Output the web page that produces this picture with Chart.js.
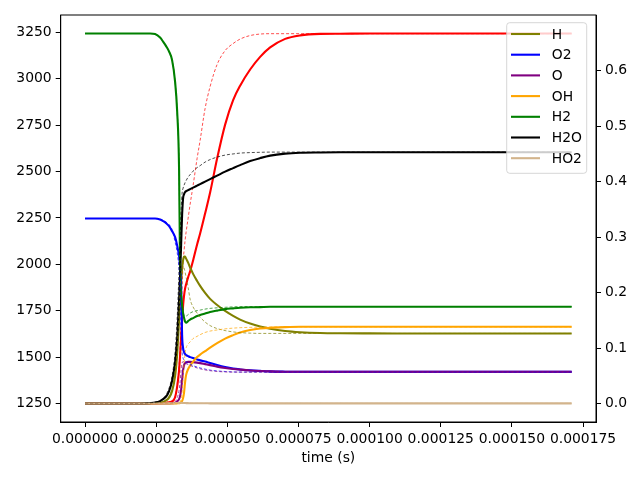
<!DOCTYPE html>
<html><head><meta charset="utf-8">
<script src="https://cdn.jsdelivr.net/npm/chart.js@4/dist/chart.umd.min.js"></script>
<style>html,body{margin:0;padding:0;background:#fff}canvas{display:block}</style>
</head><body>
<canvas id="c" width="640" height="480"></canvas>
<script>
// ---- data (time in seconds) ----
const time = [0, 12.31e-6, 19.34e-6, 22.86e-6, 24.61e-6, 26.37e-6, 27.43e-6, 28.48e-6, 29.54e-6, 30.59e-6,
  31.65e-6, 32.35e-6, 33.05e-6, 33.40e-6, 33.76e-6, 34.11e-6, 34.46e-6, 34.81e-6, 35.16e-6, 35.51e-6,
  36.22e-6, 36.92e-6, 37.97e-6, 39.38e-6, 40.44e-6, 42.19e-6, 43.95e-6, 46.41e-6, 49.23e-6, 52.04e-6,
  54.50e-6, 58.02e-6, 61.53e-6, 65.05e-6, 70.32e-6, 75.60e-6, 82.63e-6, 89.66e-6, 100.21e-6, 110.76e-6,
  128.34e-6, 145.92e-6, 171.0e-6];

// temperature (K), left axis
const T = [1250,1250,1250,1250,1250,1252,1253,1254,1257,1260,1284,1338,1429,1510,1607,1698,1779,1833,1870,1892,
  1930,1962,2021,2107,2166,2274,2387,2570,2753,2885,2963,3050,3118,3169,3215,3234,3242,3243,3244,3244,3244,3244,3244];
const Tdash = [1250,1250,1250,1250,1250,1252,1254,1256,1260,1266,1289,1349,1456,1560,1700,1870,2010,2076,2129,2173,
  2248,2323,2425,2571,2668,2840,2958,3077,3152,3190,3214,3233,3241,3243,3243,3243,3243,3243,3243,3243,3243,3243,3243];

// mole fractions, right axis
const H = [0,0,0,0.0002,0.0004,0.0014,0.0029,0.0056,0.0106,0.0223,0.0494,0.0872,0.1503,0.1863,0.2187,0.2440,0.2584,0.2647,0.2647,0.2611,
  0.2539,0.2450,0.2336,0.2208,0.2119,0.1992,0.1885,0.1775,0.1668,0.1578,0.1512,0.1440,0.1386,0.1347,0.1307,0.1285,0.1270,0.1265,0.1263,0.1262,0.1262,0.1262,0.1262];
const Hdash = [0,0,0,0.0002,0.0006,0.0016,0.0034,0.0065,0.0133,0.0277,0.0602,0.0962,0.1683,0.2043,0.2314,0.2440,0.2476,0.2440,0.2368,0.2277,
  0.2097,0.1880,0.1740,0.1630,0.1557,0.1467,0.1404,0.1350,0.1314,0.1290,0.1277,0.1268,0.1263,0.1263,0.1263,0.1263,0.1263,0.1263,0.1263,0.1263,0.1263,0.1263,0.1263];
const O2 = [0.3333,0.3333,0.3333,0.3333,0.3333,0.3314,0.3286,0.3250,0.3196,0.3106,0.2998,0.2854,0.2656,0.2476,0.2133,0.1232,0.0998,0.0926,0.0890,0.0872,
  0.0854,0.0836,0.0818,0.0795,0.0777,0.0755,0.0728,0.0692,0.0656,0.0629,0.0614,0.0598,0.0587,0.0578,0.0573,0.0571,0.0571,0.0571,0.0571,0.0571,0.0571,0.0571,0.0571];
const O2dash = [0.3333,0.3333,0.3333,0.3333,0.3333,0.3319,0.3299,0.3268,0.3224,0.3133,0.2908,0.2728,0.2404,0.2043,0.1323,0.0926,0.0818,0.0782,0.0764,0.0750,
  0.0728,0.0710,0.0683,0.0656,0.0641,0.0620,0.0602,0.0587,0.0577,0.0569,0.0566,0.0566,0.0566,0.0566,0.0566,0.0566,0.0566,0.0566,0.0566,0.0566,0.0566,0.0566,0.0566];
const O = [0,0,0,0,0,0,0,0,0,0.0004,0.0011,0.0034,0.0079,0.0133,0.0241,0.0422,0.0602,0.0692,0.0728,0.0741,
  0.0750,0.0750,0.0746,0.0737,0.0728,0.0710,0.0692,0.0665,0.0641,0.0623,0.0611,0.0596,0.0586,0.0578,0.0573,0.0571,0.0571,0.0571,0.0571,0.0571,0.0571,0.0571,0.0571];
const Odash = [0,0,0,0,0,0,0,0,0,0.0007,0.0034,0.0097,0.0241,0.0386,0.0602,0.0728,0.0755,0.0746,0.0732,0.0719,
  0.0701,0.0686,0.0665,0.0641,0.0625,0.0605,0.0591,0.0578,0.0569,0.0566,0.0566,0.0566,0.0566,0.0566,0.0566,0.0566,0.0566,0.0566,0.0566,0.0566,0.0566,0.0566,0.0566];
const OH = [0,0,0,0,0,0,0,0,0,0.0001,0.0002,0.0003,0.0004,0.0007,0.0016,0.0043,0.0097,0.0205,0.0386,0.0512,
  0.0620,0.0683,0.0755,0.0836,0.0881,0.0944,0.1007,0.1088,0.1169,0.1232,0.1281,0.1323,0.1350,0.1366,0.1377,0.1382,0.1382,0.1382,0.1382,0.1382,0.1382,0.1382,0.1382];
const OHdash = [0,0,0,0,0,0,0,0,0,0.0001,0.0002,0.0004,0.0007,0.0025,0.0079,0.0205,0.0450,0.0720,0.0900,0.1000,
  0.1070,0.1110,0.1170,0.1210,0.1240,0.1280,0.1305,0.1325,0.1345,0.1358,0.1366,0.1372,0.1376,0.1379,0.1379,0.1379,0.1379,0.1379,0.1379,0.1379,0.1379,0.1379,0.1379];
const H2 = [0.6667,0.6667,0.6667,0.6667,0.6656,0.6593,0.6521,0.6440,0.6341,0.6187,0.5796,0.5286,0.4205,0.2404,0.1953,0.1773,0.1629,0.1539,0.1476,0.1458,
  0.1485,0.1512,0.1539,0.1575,0.1593,0.1620,0.1647,0.1674,0.1701,0.1714,0.1724,0.1733,0.1737,0.1742,0.1742,0.1742,0.1742,0.1742,0.1742,0.1742,0.1742,0.1742,0.1742];
const H2dash = [0.6667,0.6667,0.6667,0.6667,0.6656,0.6593,0.6521,0.6440,0.6341,0.6187,0.5796,0.5286,0.4250,0.2550,0.2050,0.1780,0.1640,0.1593,0.1584,0.1575,
  0.1602,0.1629,0.1656,0.1674,0.1683,0.1701,0.1714,0.1724,0.1733,0.1741,0.1746,0.1746,0.1746,0.1746,0.1746,0.1746,0.1746,0.1746,0.1746,0.1746,0.1746,0.1746,0.1746];
const H2O = [0,0,0,0.0007,0.0016,0.0043,0.0079,0.0124,0.0223,0.0404,0.0746,0.1142,0.1863,0.2314,0.2854,0.3395,0.3700,0.3773,0.3809,0.3827,
  0.3845,0.3863,0.3890,0.3926,0.3953,0.3998,0.4043,0.4106,0.4178,0.4241,0.4295,0.4368,0.4422,0.4467,0.4503,0.4519,0.4524,0.4526,0.4526,0.4526,0.4526,0.4526,0.4526];
const H2Odash = [0,0,0,0.0010,0.0025,0.0052,0.0097,0.0160,0.0277,0.0494,0.0926,0.1503,0.2404,0.2944,0.3485,0.3791,0.3881,0.3935,0.3980,0.4016,
  0.4079,0.4124,0.4187,0.4250,0.4286,0.4350,0.4395,0.4440,0.4476,0.4497,0.4512,0.4521,0.4526,0.4530,0.4530,0.4530,0.4530,0.4530,0.4530,0.4530,0.4530,0.4530,0.4530];
const HO2 = [0,0.00005,0.0001,0.0001,0.0001,0.0001,0.0001,0.0001,0.0002,0.0003,0.0005,0.0008,0.0012,0.0013,0.0013,0.0012,0.0010,0.0009,0.0008,0.0007,
  0.0006,0.0005,0.0005,0.0004,0.0004,0.0004,0.0003,0.0003,0.0003,0.0003,0.0002,0.0002,0.0002,0.0002,0.0002,0.0002,0.0002,0.0002,0.0002,0.0002,0.0002,0.0002,0.0002];
const HO2dash = [0,0.00005,0.0001,0.0001,0.0001,0.0001,0.0001,0.0002,0.0003,0.0005,0.0008,0.0012,0.0014,0.0013,0.0011,0.0009,0.0008,0.0007,0.0006,0.0005,
  0.0005,0.0004,0.0004,0.0003,0.0003,0.0003,0.0003,0.0002,0.0002,0.0002,0.0002,0.0002,0.0002,0.0002,0.0002,0.0002,0.0002,0.0002,0.0002,0.0002,0.0002,0.0002,0.0002];

const speciesNames  = ['H', 'O2', 'O', 'OH', 'H2', 'H2O', 'HO2'];
const speciesColors = ['olive', 'blue', 'purple', 'orange', 'green', 'black', 'tan'];
const speciesSolid  = [H, O2, O, OH, H2, H2O, HO2];
const speciesDashed = [Hdash, O2dash, Odash, OHdash, H2dash, H2Odash, HO2dash];

const xTickValues = [0, 0.000025, 0.00005, 0.000075, 0.0001, 0.000125, 0.00015, 0.000175];
const tempTickValues = [1250, 1500, 1750, 2000, 2250, 2500, 2750, 3000, 3250];
const fracTickValues = [0.0, 0.1, 0.2, 0.3, 0.4, 0.5, 0.6];
const xTitle = 'time (s)';

// ---- build ----
function lim(arrs) {
  let lo = Infinity, hi = -Infinity;
  arrs.forEach(a => a.forEach(v => { lo = Math.min(lo, v); hi = Math.max(hi, v); }));
  const m = 0.05 * (hi - lo);
  return [lo - m, hi + m];
}
const [xMin, xMax] = lim([time]);
const [tMin, tMax] = lim([T, Tdash]);
const [fMin, fMax] = lim(speciesSolid.concat(speciesDashed));
const toXY = arr => arr.map((v, i) => ({x: time[i], y: v}));

const datasets = [];
datasets.push({label: 'T', data: toXY(T), yAxisID: 'yT', borderColor: 'red', borderWidth: 2.1});
datasets.push({label: 'T ref', data: toXY(Tdash), yAxisID: 'yT', borderColor: 'red', borderWidth: 0.7, borderDash: [3, 2]});
speciesNames.forEach((n, i) => {
  datasets.push({label: n, data: toXY(speciesSolid[i]), yAxisID: 'yX', borderColor: speciesColors[i], borderWidth: 2.1});
});
speciesNames.forEach((n, i) => {
  datasets.push({label: n + ' ref', data: toXY(speciesDashed[i]), yAxisID: 'yX', borderColor: speciesColors[i], borderWidth: 0.7, borderDash: [3, 2]});
});
datasets.forEach((d, i) => { d.order = -i; d.pointRadius = 0; d.fill = false; d.cubicInterpolationMode = 'monotone'; });

Chart.defaults.font.family = "'DejaVu Sans', sans-serif";
Chart.defaults.font.size = 13.9;
Chart.defaults.color = '#000';

const framePlugin = {
  id: 'frame',
  afterDatasetsDraw(chart) {
    const {ctx, chartArea: a} = chart;
    ctx.save();
    ctx.strokeStyle = '#000'; ctx.lineWidth = 1;
    ctx.strokeRect(a.left, a.top, a.right - a.left, a.bottom - a.top);
    ctx.restore();
  }
};
const legendPlugin = {
  id: 'boxLegend',
  afterDraw(chart) {
    const {ctx, chartArea: a} = chart;
    const bx = a.right - 89.3, by = a.top + 7.7, bw = 80, bh = 150.6;
    ctx.save();
    ctx.beginPath();
    ctx.roundRect(bx, by, bw, bh, 3);
    ctx.fillStyle = 'rgba(255,255,255,0.8)';
    ctx.fill();
    ctx.strokeStyle = 'rgba(204,204,204,0.8)';
    ctx.lineWidth = 1;
    ctx.stroke();
    ctx.font = "13.9px 'DejaVu Sans'";
    ctx.textBaseline = 'middle';
    ctx.textAlign = 'left';
    speciesNames.forEach((n, i) => {
      const y = by + 11.3 + i * 20.7;
      ctx.strokeStyle = speciesColors[i];
      ctx.lineWidth = 2.1;
      ctx.beginPath(); ctx.moveTo(bx + 4.3, y); ctx.lineTo(bx + 33.3, y); ctx.stroke();
      ctx.fillStyle = '#000';
      ctx.fillText(n, bx + 45, y + 1);
    });
    ctx.restore();
  }
};

const gridOpts = {drawOnChartArea: false, drawTicks: true, tickLength: 5, tickColor: '#000', tickWidth: 1};
const borderOpts = {display: true, color: '#000', width: 1};

new Chart(document.getElementById('c'), {
  type: 'line',
  data: {datasets},
  plugins: [framePlugin, legendPlugin],
  options: {
    responsive: false, animation: false, devicePixelRatio: 1,
    layout: {padding: {left: 0, right: 0, top: 15, bottom: 0}},
    plugins: {legend: {display: false}, tooltip: {enabled: false}},
    elements: {point: {radius: 0}, line: {borderJoinStyle: 'round', borderCapStyle: 'butt'}},
    scales: {
      x: {
        type: 'linear', position: 'bottom', min: xMin, max: xMax,
        afterBuildTicks: s => { s.ticks = xTickValues.map(v => ({value: v})); },
        afterFit: s => { s.height = 58; },
        ticks: {callback: v => Number(v).toFixed(6), padding: 4, maxRotation: 0, autoSkip: false},
        grid: gridOpts, border: borderOpts,
        title: {display: true, text: xTitle, padding: {top: 0, bottom: 13.7}}
      },
      yT: {
        type: 'linear', position: 'left', min: tMin, max: tMax,
        afterBuildTicks: s => { s.ticks = tempTickValues.map(v => ({value: v})); },
        afterFit: s => { s.width = 60.7; },
        ticks: {callback: v => String(Math.round(v)), padding: 4},
        grid: gridOpts, border: borderOpts
      },
      yX: {
        type: 'linear', position: 'right', min: fMin, max: fMax,
        afterBuildTicks: s => { s.ticks = fracTickValues.map(v => ({value: v})); },
        afterFit: s => { s.width = 44; },
        ticks: {callback: v => Number(v).toFixed(1), padding: 4},
        grid: gridOpts, border: borderOpts
      }
    }
  }
});
</script>
</body></html>
